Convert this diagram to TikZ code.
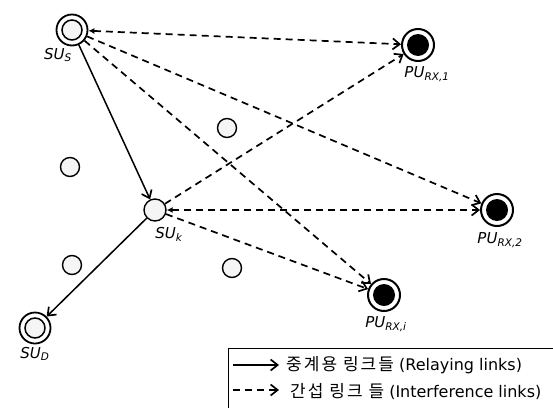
\documentclass[tikz,border=0pt]{standalone}
\usepackage{fontspec}
\setmainfont{DejaVu Sans}
\newfontfamily\krfont[LetterSpace=12]{Noto Sans CJK KR}
\usetikzlibrary{arrows.meta}
\tikzset{
  su/.style={circle,draw,line width=1.8pt,minimum size=31pt,inner sep=0pt,
    path picture={\draw[line width=1.5pt,fill=gray!8] (path picture bounding box.center) circle (10pt);}},
  pu/.style={circle,draw,line width=2pt,minimum size=32pt,inner sep=0pt,
    path picture={\fill[black] (path picture bounding box.center) circle (11pt);}},
  sm/.style={circle,draw,line width=1.4pt,fill=gray!8,minimum size=19pt,inner sep=0pt},
  lab/.style={font=\itshape\fontsize{15}{15}\selectfont},
  legtext/.style={anchor=west,inner sep=0pt,font=\fontsize{16}{16}\selectfont},
  relay/.style={line width=1.5pt,-{Straight Barb[length=7pt,width=11pt,line width=1.7pt]}},
  interf/.style={line width=1.7pt,dash pattern=on 7pt off 5pt,-{Straight Barb[length=7pt,width=11pt,line width=1.7pt]}},
  both/.style={line width=1.7pt,dash pattern=on 7pt off 5pt,{Latex[length=6pt,width=6pt]}-{Straight Barb[length=7pt,width=11pt,line width=1.7pt]}}
}
\newcommand{\krtext}[1]{{\krfont\fontsize{17}{17}\selectfont #1}}
\begin{document}
\begin{tikzpicture}[x=1pt,y=-1pt]
\useasboundingbox (0,0) rectangle (553,407);
\node[su] (sus) at (72,30) {};
\node[lab] (lsus) at (58,55) {SU\textsubscript{S}};
\node[sm,minimum size=22pt] (suk) at (155,210) {};
\node[lab] (lsuk) at (169,234) {SU\textsubscript{k}};
\node[su] (sud) at (35,328) {};
\node[lab] (lsud) at (35,354) {SU\textsubscript{D}};
\node[pu] (pu1) at (418,45) {};
\node[lab] (lpu1) at (427,74) {PU\textsubscript{RX,1}};
\node[pu] (pu2) at (497,210) {};
\node[lab] (lpu2) at (500,240) {PU\textsubscript{RX,2}};
\node[pu] (pui) at (384,295) {};
\node[lab] (lpui) at (386,324) {PU\textsubscript{RX,i}};
\node[sm] (s1) at (70,167) {};
\node[sm] (s2) at (227,128) {};
\node[sm] (s3) at (72,265) {};
\node[sm] (s4) at (232,268) {};
\draw[relay] (sus) -- (suk);
\draw[relay] (suk) -- (sud);
\draw[both] (sus) -- (pu1);
\draw[interf] (sus) -- (pu2);
\draw[interf] (sus) -- (pui);
\draw[interf] (suk) -- (pu1);
\draw[both] (suk) -- (pu2);
\draw[interf] (suk) -- (pui);
\node[draw,line width=1.2pt,anchor=north west,minimum width=330pt,minimum height=62pt] (leg) at (228,348) {};
\coordinate (a1) at (233,365);
\coordinate (b1) at (279,365);
\coordinate (a2) at (233,390);
\coordinate (b2) at (279,390);
\draw[relay] (a1) -- (b1);
\draw[interf] (a2) -- (b2);
\node[legtext] (t1) at (286,365) {\krtext{중계용 링크들} (Relaying links)};
\node[legtext] (t2) at (290,392) {\krtext{간섭 링크 들} (Interference links)};
\end{tikzpicture}
\end{document}
